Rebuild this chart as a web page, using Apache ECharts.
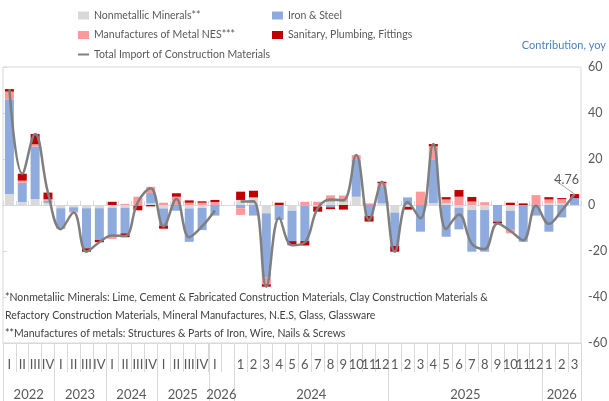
<!DOCTYPE html>
<html>
<head>
<meta charset="utf-8">
<script src="https://cdn.jsdelivr.net/npm/echarts@6/dist/echarts.min.js"></script>
<style>
  html, body { margin: 0; padding: 0; background: #ffffff; }
  #chart { width: 609px; height: 401px; }
</style>
</head>
<body>
<div id="chart"></div>
<script>
// Period labels: quarterly block (2022 I .. 2026 I), one spacer, then monthly block (2024.1 .. 2026.3)
const periodLabels = [
  'I','II','III','IV', 'I','II','III','IV', 'I','II','III','IV', 'I','II','III','IV', 'I', '',
  '1','2','3','4','5','6','7','8','9','10','11','12',
  '1','2','3','4','5','6','7','8','9','10','11','12',
  '1','2','3'
];

// Year groups on the second label row: [label, first index, end index (exclusive)]
const yearGroups = [
  ['2022', 0, 4], ['2023', 4, 8], ['2024', 8, 12], ['2025', 12, 16], ['2026', 16, 18],
  ['2024', 18, 30], ['2025', 30, 42], ['2026', 42, 45]
];

// Contribution to yoy growth (%p) by item
const nonmetallic = [
  4.8, 1.3, 2.6, 0.9, -1.4, -1.0, -1.4, -1.4, -1.2, -1.2, -0.3, 0.7, -1.5, 0, -1.5, -1.3, 0, null,
  2.2, 3.3, -3.6, 0, -2.5, -0.2, -0.7, 1.3, 1.3, 3.6, 0, 0.7,
  -3.3, -0.8, 0, 0.8, 0.7, -1.2, -2.2, -2.2, 0, -2.5, 0, 0,
  0.7, 0.7, 0
];
const ironSteel = [
  41.2, 8.4, 22.8, 1.0, -8.7, -1.6, -17.4, -13.8, -12.0, -11.1, 0, 4.5, -7.5, -2.5, -14.5, -9.6, -4.6, null,
  -1.4, -4.6, -28.0, -6.5, -13.2, -15.5, 0, -1.0, 0, 16.0, -4.8, 7.5,
  -14.5, 3.3, -11.6, 18.8, -13.8, -9.4, -18.1, -18.1, -7.2, -8.3, -16.0, -4.6,
  -11.6, -5.4, 3.0
];
const metalManufactures = [
  3.3, 0.9, 1.0, 0.6, -0.4, -0.7, 0, 0, -1.5, 0.5, 3.6, 2.7, 1.0, 3.6, 1.0, 1.0, 1.3, null,
  -2.9, 0, -2.9, 0, 0, 1.4, 1.4, 2.9, 2.8, 2.1, 0.7, 1.3,
  0, 0, 5.8, 5.9, 1.7, 3.6, 1.5, 1.2, 0, -1.5, 0, 4.3,
  1.7, 1.8, 0
];
const sanitary = [
  1.1, 3.0, 4.5, 2.9, 0, 0, -1.5, -1.0, 1.4, -1.7, -2.0, -0.6, -1.3, 1.5, 1.0, 0.6, 0.9, null,
  3.6, 2.9, -1.0, 1.0, -1.8, -1.9, -2.2, -0.8, -2.0, 0, -2.4, 0.6,
  -2.5, -1.2, 0, 1.0, 1.0, 2.9, 2.0, 0, -0.8, 1.0, 0.7, 0,
  1.0, 0.5, 1.76
];
// Total import of construction materials, yoy (%)
const totalImport = [
  50.4, 13.6, 30.9, 5.4, -10.5, -3.3, -20.3, -16.2, -13.3, -13.5, 1.3, 7.3, -9.3, 2.6, -14.0, -9.3, -2.4, null,
  1.5, 1.6, -35.5, -5.5, -17.5, -16.2, -1.5, 2.4, 2.1, 21.7, -6.5, 10.1,
  -20.3, 1.3, -5.8, 26.5, -10.4, -4.1, -16.8, -19.1, -8.0, -11.3, -15.3, -0.3,
  -8.2, -2.4, 4.76
];

const footnotes = [
  '*Nonmetaliic Minerals: Lime, Cement & Fabricated Construction Materials, Clay Construction Materials &',
  'Refactory Construction Materials, Mineral Manufactures, N.E.S, Glass, Glassware',
  '**Manufactures of metals: Structures & Parts of Iron, Wire, Nails & Screws'
];

const FONT = 'Lato, Roboto, sans-serif';
const AXIS_GRAY = '#d9d9d9';
const TEXT_GRAY = '#595959';
const LINE_ICON = 'path://M0,0L0,0M0,3L11,3L11,5L0,5ZM11,8L11,8';

const lastIdx = totalImport.length - 1;
const totalData = totalImport.map((v, i) => i === lastIdx
  ? { value: v, label: { show: true, formatter: String(v) } }
  : v);

function barSeries(name, data, color) {
  return {
    name, type: 'bar', stack: 'contribution', data,
    barWidth: 9, itemStyle: { color },
    xAxisIndex: 0, yAxisIndex: 0
  };
}

const chart = echarts.init(document.getElementById('chart'), null, { renderer: 'canvas' });

const legendText = { fontSize: 10.5, color: TEXT_GRAY, fontFamily: FONT, lineHeight: 14 };

const option = {
  animation: false,
  textStyle: { fontFamily: FONT },
  grid: {
    left: 3, right: 28, top: 67, bottom: 58,
    show: true, borderColor: AXIS_GRAY, borderWidth: 1,
    containLabel: false, outerBoundsMode: 'none'
  },
  legend: [
    {
      left: 78, top: 8.5, padding: 0, orient: 'vertical', itemWidth: 11, itemHeight: 8, itemGap: 5.5,
      selectedMode: false, textStyle: legendText,
      data: [
        { name: 'Nonmetallic Minerals**', icon: 'rect' },
        { name: 'Manufactures of Metal NES***', icon: 'rect' },
        { name: 'Total Import of Construction Materials', icon: LINE_ICON, itemStyle: { borderWidth: 0 } }
      ]
    },
    {
      left: 272, top: 8.5, padding: 0, orient: 'vertical', itemWidth: 11, itemHeight: 8, itemGap: 5.5,
      selectedMode: false, textStyle: legendText,
      data: [
        { name: 'Iron & Steel', icon: 'rect' },
        { name: 'Sanitary, Plumbing, Fittings', icon: 'rect' }
      ]
    }
  ],
  xAxis: [
    {
      // zero line with short upward ticks
      type: 'category', data: periodLabels, position: 'bottom',
      axisLine: { show: true, onZero: true, lineStyle: { color: AXIS_GRAY, width: 1 } },
      axisTick: { show: true, inside: true, length: 4, interval: 0, lineStyle: { color: AXIS_GRAY } },
      axisLabel: { show: false }, splitLine: { show: false }
    },
    {
      // period labels along the bottom edge
      type: 'category', data: periodLabels, position: 'bottom',
      axisLine: { show: true, onZero: false, lineStyle: { color: AXIS_GRAY, width: 1 } },
      axisTick: { show: true, length: 29, interval: 0, lineStyle: { color: AXIS_GRAY } },
      axisLabel: { interval: 0, margin: 15, fontSize: 13, color: TEXT_GRAY, fontFamily: FONT },
      splitLine: { show: false }
    }
  ],
  yAxis: [
    {
      type: 'value', position: 'right', min: -60, max: 60, interval: 20,
      axisLine: { show: false }, axisTick: { show: false }, splitLine: { show: false },
      axisLabel: { margin: 7, fontSize: 12.5, color: TEXT_GRAY, fontFamily: FONT }
    },
    {
      type: 'value', position: 'left', min: -60, max: 60, interval: 20,
      axisLine: { show: false },
      axisTick: { show: true, inside: true, length: 4, lineStyle: { color: AXIS_GRAY } },
      axisLabel: { show: false }, splitLine: { show: false }
    }
  ],
  series: [
    barSeries('Nonmetallic Minerals**', nonmetallic, '#d9d9d9'),
    barSeries('Iron & Steel', ironSteel, '#8faadc'),
    barSeries('Manufactures of Metal NES***', metalManufactures, '#ff9999'),
    barSeries('Sanitary, Plumbing, Fittings', sanitary, '#c00000'),
    {
      name: 'Total Import of Construction Materials', type: 'line',
      data: totalData, xAxisIndex: 0, yAxisIndex: 0,
      smooth: 0.4, connectNulls: false,
      symbol: 'circle', symbolSize: 0, showSymbol: true, showAllSymbol: true,
      lineStyle: { color: '#7f7f7f', width: 2.5 },
      itemStyle: { color: '#7f7f7f' },
      label: { show: false, position: 'top', distance: 4, fontSize: 12.5, color: TEXT_GRAY, fontFamily: FONT },
      labelLayout: { dx: -8, dy: -4 },
      labelLine: { show: true, lineStyle: { color: '#a6a6a6', width: 1 } },
      z: 5
    }
  ]
};

chart.setOption(option);

// Year row and group separators, positioned from the category axis scale
const c0 = chart.convertToPixel({ xAxisIndex: 1 }, 0);
const c1 = chart.convertToPixel({ xAxisIndex: 1 }, 1);
const band = c1 - c0;
const edge = i => c0 + (i - 0.5) * band;
const axisBottom = chart.convertToPixel({ yAxisIndex: 0 }, -60);
const chartHeight = chart.getHeight();

const graphics = [];
const separatorIdx = new Set([0]);
yearGroups.forEach(([, s, e]) => { separatorIdx.add(s); separatorIdx.add(e); });
separatorIdx.forEach(i => {
  const x = Math.round(edge(i)) + 0.5;
  graphics.push({
    type: 'line', silent: true,
    shape: { x1: x, y1: axisBottom, x2: x, y2: chartHeight },
    style: { stroke: AXIS_GRAY, lineWidth: 1 }
  });
});
yearGroups.forEach(([label, s, e]) => {
  graphics.push({
    type: 'text', silent: true,
    style: {
      text: label, x: (edge(s) + edge(e)) / 2, y: axisBottom + 52,
      fill: TEXT_GRAY, font: '13px ' + FONT,
      textAlign: 'center', textVerticalAlign: 'middle', align: 'center', verticalAlign: 'middle'
    }
  });
});
footnotes.forEach((line, k) => {
  graphics.push({
    type: 'text', silent: true,
    style: {
      text: line, x: 5, y: 298 + k * 18,
      fill: '#404040', font: '10.5px ' + FONT,
      textAlign: 'left', textVerticalAlign: 'middle', align: 'left', verticalAlign: 'middle'
    }
  });
});
graphics.push({
  type: 'text', silent: true,
  style: {
    text: 'Contribution, yoy', x: 606, y: 45,
    fill: '#4f81bd', font: '11px ' + FONT,
    textAlign: 'right', textVerticalAlign: 'middle', align: 'right', verticalAlign: 'middle'
  }
});

chart.setOption({ graphic: graphics });
</script>
</body>
</html>
